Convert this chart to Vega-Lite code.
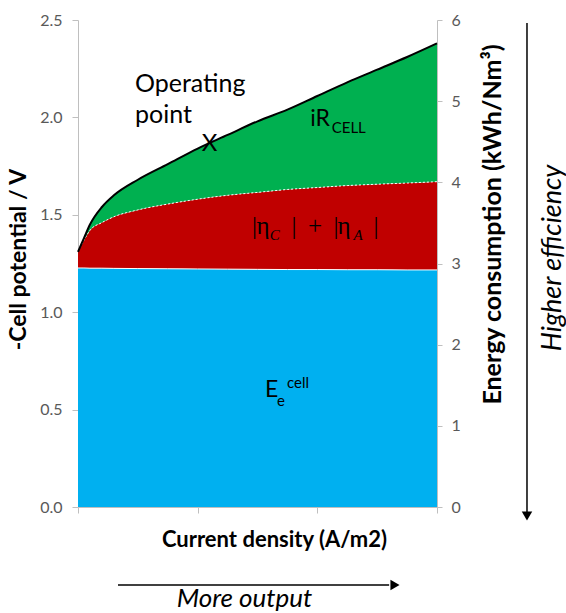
{
  "$schema": "https://vega.github.io/schema/vega-lite/v6.json",
  "width": 359,
  "height": 487,
  "autosize": {"type": "none"},
  "padding": {"left": 78, "top": 20, "right": 129, "bottom": 106},
  "background": "white",
  "config": {"view": {"stroke": null}, "font": "Lato"},
  "resolve": {"axis": {"x": "independent", "y": "independent"}},
  "data": {"values": [
    {"x": 0, "Ee": 1.227, "over": 1.31, "total": 1.31},
    {"x": 0.05, "Ee": 1.227, "over": 1.37, "total": 1.38},
    {"x": 0.1, "Ee": 1.226, "over": 1.42, "total": 1.45},
    {"x": 0.2, "Ee": 1.226, "over": 1.46, "total": 1.54},
    {"x": 0.3, "Ee": 1.225, "over": 1.49, "total": 1.6},
    {"x": 0.5, "Ee": 1.224, "over": 1.525, "total": 1.68},
    {"x": 0.75, "Ee": 1.223, "over": 1.555, "total": 1.76},
    {"x": 1.0, "Ee": 1.222, "over": 1.58, "total": 1.84},
    {"x": 1.25, "Ee": 1.221, "over": 1.6, "total": 1.91},
    {"x": 1.5, "Ee": 1.22, "over": 1.615, "total": 1.98},
    {"x": 1.75, "Ee": 1.219, "over": 1.63, "total": 2.04},
    {"x": 2.0, "Ee": 1.219, "over": 1.64, "total": 2.11},
    {"x": 2.25, "Ee": 1.218, "over": 1.65, "total": 2.18},
    {"x": 2.5, "Ee": 1.218, "over": 1.657, "total": 2.245},
    {"x": 2.75, "Ee": 1.217, "over": 1.663, "total": 2.31},
    {"x": 3.0, "Ee": 1.217, "over": 1.67, "total": 2.38}
  ]},
  "layer": [
    {
      "mark": {"type": "area", "color": "#00B0F0", "interpolate": "monotone"},
      "encoding": {
        "x": {"field": "x", "type": "quantitative", "scale": {"domain": [0, 3], "nice": false},
          "axis": {"orient": "bottom", "values": [0, 1, 2, 3], "labels": false, "grid": false, "domainColor": "#BFBFBF", "tickColor": "#BFBFBF", "tickSize": 6,
            "title": "Current density (A/m2)", "titleFont": "Lato", "titleFontWeight": "bold", "titleFontSize": 22, "titleColor": "black",
            "titleX": 196, "titleY": 32, "titleBaseline": "middle", "titleAlign": "center"}},
        "y": {"field": "Ee", "type": "quantitative", "scale": {"domain": [0, 2.5], "nice": false},
          "axis": {"orient": "left", "values": [0, 0.5, 1, 1.5, 2, 2.5], "format": ".1f", "grid": false, "domainColor": "#BFBFBF", "tickColor": "#BFBFBF", "tickSize": 6,
            "labelFont": "Lato", "labelFontSize": 16, "labelColor": "#595959", "labelPadding": 10,
            "title": "-Cell potential / V", "titleFont": "Lato", "titleFontWeight": "bold", "titleFontSize": 23, "titleColor": "black",
            "titleAngle": 270, "titleX": -60, "titleY": 239, "titleBaseline": "middle", "titleAlign": "center"}},
        "y2": {"datum": 0}
      }
    },
    {
      "mark": {"type": "area", "color": "#C00000", "interpolate": "monotone"},
      "encoding": {
        "x": {"field": "x", "type": "quantitative", "axis": null},
        "y": {"field": "over", "type": "quantitative", "axis": null},
        "y2": {"field": "Ee"}
      }
    },
    {
      "mark": {"type": "area", "color": "#00B050", "interpolate": "monotone"},
      "encoding": {
        "x": {"field": "x", "type": "quantitative", "axis": null},
        "y": {"field": "total", "type": "quantitative", "axis": null},
        "y2": {"field": "over"}
      }
    },
    {
      "mark": {"type": "line", "color": "white", "strokeWidth": 1, "interpolate": "monotone"},
      "encoding": {
        "x": {"field": "x", "type": "quantitative", "axis": null},
        "y": {"field": "Ee", "type": "quantitative", "axis": null}
      }
    },
    {
      "mark": {"type": "line", "color": "white", "strokeWidth": 1, "strokeDash": [2, 2], "interpolate": "monotone"},
      "encoding": {
        "x": {"field": "x", "type": "quantitative", "axis": null},
        "y": {"field": "over", "type": "quantitative", "axis": null}
      }
    },
    {
      "mark": {"type": "line", "color": "black", "strokeWidth": 2, "interpolate": "monotone"},
      "encoding": {
        "x": {"field": "x", "type": "quantitative", "axis": null},
        "y": {"field": "total", "type": "quantitative", "axis": null}
      }
    },
    {
      "mark": {"type": "point", "opacity": 0},
      "encoding": {
        "x": {"field": "x", "type": "quantitative", "axis": null},
        "y": {"field": "total", "type": "quantitative",
          "axis": {"orient": "right", "values": [0, 0.416667, 0.833333, 1.25, 1.666667, 2.083333, 2.5], "labelExpr": "format(datum.value * 2.4, '.0f')",
            "grid": false, "domainColor": "#BFBFBF", "tickColor": "#BFBFBF", "tickSize": 5,
            "labelFont": "Lato", "labelFontSize": 16, "labelColor": "#595959", "labelPadding": 9,
            "title": "Energy consumption (kWh/Nm³)", "titleFont": "Lato", "titleFontWeight": "bold", "titleFontSize": 25, "titleColor": "black",
            "titleAngle": 270, "titleX": 55, "titleY": 204, "titleBaseline": "middle", "titleAlign": "center"}}
      }
    },
    {
      "data": {"values": [
        {"px": 0.476, "py": 2.13, "t": "Operating"},
        {"px": 0.476, "py": 1.971, "t": "point"}
      ]},
      "mark": {"type": "text", "align": "left", "baseline": "alphabetic", "font": "Lato", "fontSize": 25, "color": "black"},
      "encoding": {
        "x": {"field": "px", "type": "quantitative", "axis": null},
        "y": {"field": "py", "type": "quantitative", "axis": null},
        "text": {"field": "t"}
      }
    },
    {
      "data": {"values": [
        {"px": 1.94, "py": 1.99, "t": "iR"},
        {"px": 1.563, "py": 0.6, "t": "E"}
      ]},
      "mark": {"type": "text", "align": "left", "baseline": "middle", "font": "Lato", "fontSize": 23, "color": "black"},
      "encoding": {
        "x": {"field": "px", "type": "quantitative", "axis": null},
        "y": {"field": "py", "type": "quantitative", "axis": null},
        "text": {"field": "t"}
      }
    },
    {
      "data": {"values": [{"px": 1.099, "py": 1.863, "t": "X"}]},
      "mark": {"type": "text", "align": "center", "baseline": "middle", "font": "Lato", "fontSize": 24, "color": "black"},
      "encoding": {
        "x": {"field": "px", "type": "quantitative", "axis": null},
        "y": {"field": "py", "type": "quantitative", "axis": null},
        "text": {"field": "t"}
      }
    },
    {
      "data": {"values": [
        {"px": 2.12, "py": 1.948, "t": "CELL"},
        {"px": 1.663, "py": 0.544, "t": "e"},
        {"px": 1.747, "py": 0.636, "t": "cell"}
      ]},
      "mark": {"type": "text", "align": "left", "baseline": "middle", "font": "Lato", "fontSize": 15, "color": "black"},
      "encoding": {
        "x": {"field": "px", "type": "quantitative", "axis": null},
        "y": {"field": "py", "type": "quantitative", "axis": null},
        "text": {"field": "t"}
      }
    },
    {
      "data": {"values": [
        {"px": 1.475, "py": 1.44, "t": "|"},
        {"px": 1.546, "py": 1.44, "t": "η"},
        {"px": 1.805, "py": 1.44, "t": "|"},
        {"px": 1.98, "py": 1.44, "t": "+"},
        {"px": 2.156, "py": 1.44, "t": "|"},
        {"px": 2.223, "py": 1.44, "t": "η"},
        {"px": 2.49, "py": 1.44, "t": "|"}
      ]},
      "mark": {"type": "text", "align": "center", "baseline": "middle", "font": "Liberation Serif", "fontSize": 25, "color": "black"},
      "encoding": {
        "x": {"field": "px", "type": "quantitative", "axis": null},
        "y": {"field": "py", "type": "quantitative", "axis": null},
        "text": {"field": "t"}
      }
    },
    {
      "data": {"values": [
        {"px": 1.645, "py": 1.398, "t": "C"},
        {"px": 2.34, "py": 1.398, "t": "A"}
      ]},
      "mark": {"type": "text", "align": "center", "baseline": "middle", "font": "Liberation Serif", "fontStyle": "italic", "fontSize": 15, "color": "black"},
      "encoding": {
        "x": {"field": "px", "type": "quantitative", "axis": null},
        "y": {"field": "py", "type": "quantitative", "axis": null},
        "text": {"field": "t"}
      }
    },
    {
      "data": {"values": [{"px": 1.391, "py": -0.47, "t": "More output"}]},
      "mark": {"type": "text", "align": "center", "baseline": "middle", "font": "Lato", "fontStyle": "italic", "fontSize": 26, "color": "black"},
      "encoding": {
        "x": {"field": "px", "type": "quantitative", "axis": null},
        "y": {"field": "py", "type": "quantitative", "axis": null},
        "text": {"field": "t"}
      }
    },
    {
      "data": {"values": [{"px": 3.969, "py": 1.278, "t": "Higher efficiency"}]},
      "mark": {"type": "text", "align": "center", "baseline": "middle", "angle": 270, "font": "Lato", "fontStyle": "italic", "fontSize": 27, "color": "black"},
      "encoding": {
        "x": {"field": "px", "type": "quantitative", "axis": null},
        "y": {"field": "py", "type": "quantitative", "axis": null},
        "text": {"field": "t"}
      }
    },
    {
      "data": {"values": [{"x1": 3.752, "x2": 3.752, "y1": 2.485, "y2": -0.03}, {"x1": 0.334, "x2": 2.6, "y1": -0.4004, "y2": -0.4004}]},
      "mark": {"type": "rule", "color": "black", "strokeWidth": 1.5},
      "encoding": {
        "x": {"field": "x1", "type": "quantitative", "axis": null},
        "x2": {"field": "x2"},
        "y": {"field": "y1", "type": "quantitative", "axis": null},
        "y2": {"field": "y2"}
      }
    },
    {
      "data": {"values": [{"px": 3.752, "py": -0.046}]},
      "mark": {"type": "point", "shape": "triangle-down", "filled": true, "color": "black", "size": 110, "opacity": 1},
      "encoding": {
        "x": {"field": "px", "type": "quantitative", "axis": null},
        "y": {"field": "py", "type": "quantitative", "axis": null}
      }
    },
    {
      "data": {"values": [{"px": 2.649, "py": -0.4004}]},
      "mark": {"type": "point", "shape": "triangle-right", "filled": true, "color": "black", "size": 110, "opacity": 1},
      "encoding": {
        "x": {"field": "px", "type": "quantitative", "axis": null},
        "y": {"field": "py", "type": "quantitative", "axis": null}
      }
    }
  ]
}
